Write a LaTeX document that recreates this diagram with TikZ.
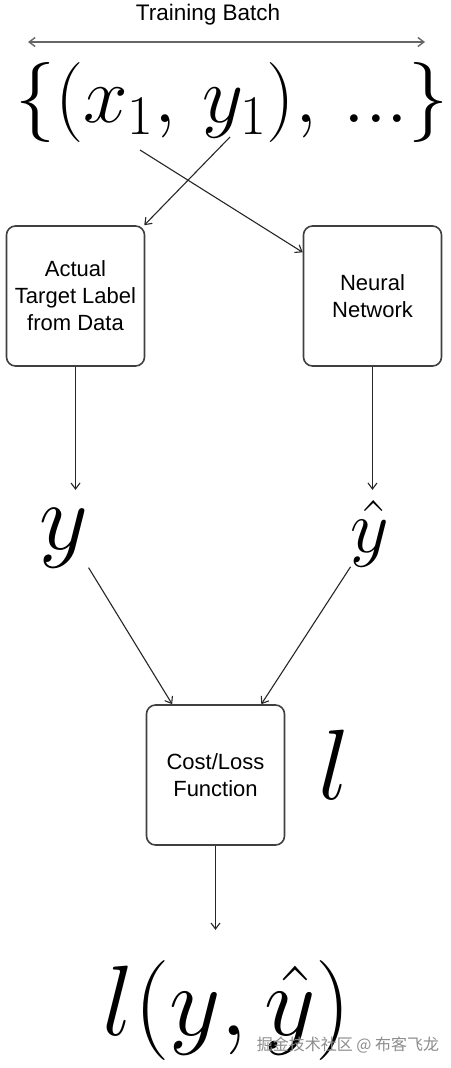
\documentclass[tikz,border=0pt]{standalone}
\usepackage{fix-cm}
\usepackage[no-math]{fontspec}
\setmainfont{Liberation Sans}
\newfontfamily\cjkfont{Noto Sans CJK SC}
\usetikzlibrary{arrows.meta}
\tikzset{>={Straight Barb[length=6pt,width=9pt]}}
\tikzset{
  stepbox/.style={draw=black!75, line width=1.6pt, rounded corners=9pt,
    minimum width=138pt, minimum height=140pt, inner sep=0pt,
    align=center, font=\fontsize{22}{27}\selectfont},
  bigmath/.style={inner sep=0pt, font=\fontsize{#1}{#1}\selectfont},
  flow/.style={->, line width=1.1pt, black!85},
}
\begin{document}
\begin{tikzpicture}[x=1pt, y=-1pt]
            \useasboundingbox (0, 0) rectangle (450, 1068);

            % batch on top
            \node[font=\fontsize{22.5}{27}\selectfont] (title) at (208, 15) {Training Batch};
            \coordinate (bl) at (28, 42);
            \coordinate (br) at (425, 42);
            \draw[<->, line width=1.4pt, black!60] (bl) -- (br);
            \node[bigmath=80] (batch) at (232, 102) {$\{(x_1,\,y_1),\,...\}$};
            \coordinate (xs) at (140, 150);
            \coordinate (ys) at (230, 137);

            \node[stepbox] (actual) at (75.5, 296) {Actual\\Target Label\\from Data};
            \node[stepbox] (net) at (372.5, 296) {Neural\\Network};
            \draw[flow] (ys) -- (actual);
            \draw[flow] (xs) -- (net);

            % outputs
            \node[bigmath=95, anchor=base] (yl) at (64, 549) {$y$};
            \node[bigmath=75, anchor=base] (yh) at (370, 552) {$\hat{y}$};
            \draw[flow, shorten >=18pt] (actual.south) -- (actual.south |- yl.north);
            \draw[flow, shorten >=18pt] (net.south) -- (net.south |- yl.north);

            \node[stepbox] (cost) at (215.5, 775) {Cost/Loss\\Function};
            \node[bigmath=100] (lsym) at (334, 765) {$l$};
            \draw[flow] (yl.south east) -- (cost);
            \draw[flow] (yh.south west) -- (cost);

            \node[bigmath=100, anchor=base] (loss) at (227, 1035) {$l(y,\hat{y})$};
            \draw[flow, shorten >=30pt] (cost.south) -- (cost.south |- loss.north);

            \node[text=black!45, font=\cjkfont\fontsize{16}{16}\selectfont] (mark) at (348, 1045) {掘金技术社区 @ 布客飞龙};
        \end{tikzpicture}
\end{document}
